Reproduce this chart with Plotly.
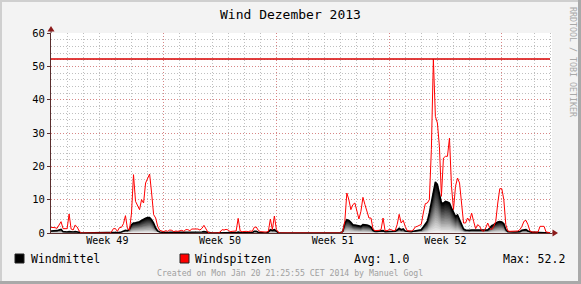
import numpy as np
import pandas as pd
import plotly.graph_objects as go

# ---------------- data ----------------
title = "Wind Dezember 2013"
series_names = ["Windmittel", "Windspitzen"]
start = "2013-12-02 00:00"
step = "3h"
range_end = "2014-01-02 02:50"
week_labels = ["Week 49", "Week 50", "Week 51", "Week 52"]
week_centers = ["2013-12-05 12:00", "2013-12-12 12:00", "2013-12-19 12:00", "2013-12-26 12:00"]
week_starts = ["2013-12-09", "2013-12-16", "2013-12-23", "2013-12-30"]
y_ticks = [0, 10, 20, 30, 40, 50, 60]

windspitzen = [
    1.7, 1.7, 1.6, 1.4, 2.5, 3.4, 1.3, 1.2,
    1.3, 5.7, 1.2, 0.9, 2.4, 1.8, 0.6, 0.0,
    0, 0, 0, 0, 0, 0, 0, 0,
    0, 0, 0, 0, 0, 0, 0.3, 1.3,
    1.3, 0.5, 1.6, 1.7, 2.8, 5.2, 1.3, 0.9,
    6.0, 17.5, 9.5, 8.0, 7.0, 10.0, 9.0, 15.0,
    16.5, 17.7, 12.0, 5.5, 4.5, 2.0, 0.8, 0.5,
    0.4, 0.7, 0.5, 0.9, 0.8, 0.4, 0.6, 0.5,
    0.7, 0.8, 0.5, 1.0, 1.0, 0.7, 1.2, 1.2,
    1.0, 1.2, 0.9, 1.4, 2.3, 1.2, 0.2, 0.0,
    0, 0, 0, 0, 0.3, 1.0, 0.9, 1.1,
    0.9, 0.4, 0.5, 0.5, 0.6, 4.4, 0.6, 0.4,
    0.5, 0.5, 0.4, 0.6, 0.5, 1.7, 1.8, 0.8,
    0.4, 0.3, 0.2, 0.3, 0.5, 4.2, 1.0, 5.1,
    1.0, 0.2, 0, 0, 0, 0, 0, 0,
    0, 0, 0, 0, 0, 0, 0, 0,
    0, 0, 0, 0, 0, 0, 0, 0,
    0, 0, 0, 0, 0, 0, 0, 0,
    0, 0.5, 3.5, 12.0, 10.0, 7.0, 8.5, 9.0,
    6.5, 4.2, 6.5, 10.7, 8.5, 6.3, 4.5, 4.5,
    1.2, 0.7, 0.7, 0.8, 1.0, 4.5, 0.7, 0.7,
    1.0, 1.0, 0.7, 0.7, 2.5, 5.6, 3.0, 3.8,
    2.0, 0.7, 0.6, 0.6, 0.9, 1.8, 2.0, 2.2,
    2.6, 6.0, 8.8, 9.0, 10.0, 25.0, 52.2, 35.0,
    33.0, 26.0, 11.0, 22.5, 23.0, 23.0, 28.5, 14.0,
    7.0, 14.0, 16.5, 15.0, 8.0, 3.0, 3.0, 4.5,
    3.5, 6.0, 3.5, 1.3, 2.5, 2.0, 0.8, 0.5,
    1.5, 3.0, 1.5, 1.0, 2.0, 3.5, 9.0, 13.3,
    13.3, 10.0, 2.5, 0.6, 0.5, 0.5, 0.5, 0.5,
    0.6, 1.0, 2.0, 3.5, 3.8, 2.5, 0.6, 0.3,
    0.3, 0.3, 0.3, 2.0, 2.0, 2.0, 0.3, 0.1,
    0.1,
]

windmittel = [
    0.6, 0.6, 0.6, 0.7, 0.9, 1.1, 0.4, 0.3,
    0.3, 0.4, 0.3, 0.3, 0.4, 0.4, 0.2, 0,
    0, 0, 0, 0, 0, 0, 0, 0,
    0, 0, 0, 0, 0, 0, 0, 0,
    0, 0, 0.2, 0.3, 0.5, 0.8, 0.7, 1.2,
    2.5, 3.0, 3.1, 3.2, 3.4, 3.8, 4.2, 4.4,
    4.6, 4.6, 4.0, 3.0, 1.5, 0.6, 0.3, 0.2,
    0.1, 0.2, 0.1, 0.2, 0.2, 0.1, 0.1, 0.1,
    0.2, 0.2, 0.1, 0.3, 0.3, 0.2, 0.2, 0.2,
    0.2, 0.3, 0.2, 0.3, 0.4, 0.3, 0, 0,
    0, 0, 0, 0, 0, 0.1, 0.2, 0.2,
    0.2, 0.1, 0.1, 0.1, 0.1, 0.3, 0.1, 0.1,
    0.1, 0.1, 0.1, 0.1, 0.1, 0.5, 0.5, 0.2,
    0.1, 0.1, 0, 0.1, 0.3, 1.0, 0.8, 1.0,
    0.5, 0.1, 0, 0, 0, 0, 0, 0,
    0, 0, 0, 0, 0, 0, 0, 0,
    0, 0, 0, 0, 0, 0, 0, 0,
    0, 0, 0, 0, 0, 0, 0, 0,
    0, 0.5, 3.0, 4.0, 3.8, 3.2, 2.5, 2.4,
    2.3, 2.1, 2.0, 2.5, 2.5, 2.4, 2.2, 1.8,
    0.8, 0.5, 0.5, 0.5, 0.5, 0.7, 0.4, 0.4,
    0.5, 0.5, 0.4, 0.5, 0.9, 1.4, 1.0, 1.2,
    0.6, 0.5, 0.4, 0.4, 0.5, 0.6, 0.7, 0.9,
    1.0, 1.8, 2.5, 3.5, 6.0, 9.0, 13.0, 15.3,
    14.5, 12.0, 9.0, 9.0, 9.5, 9.3, 9.0, 7.5,
    6.0, 5.0, 5.4, 4.0, 2.5, 1.2, 0.9, 0.8,
    0.8, 0.9, 0.9, 0.8, 0.8, 0.8, 0.7, 0.8,
    0.8, 0.9, 1.5, 2.2, 2.5, 3.0, 3.3, 3.4,
    3.3, 2.8, 1.0, 0.4, 0.3, 0.3, 0.3, 0.3,
    0.3, 0.4, 0.8, 1.0, 1.0, 0.6, 0.3, 0.2,
    0.2, 0.2, 0.2, 0.2, 0.2, 0.2, 0.1, 0,
    0,
]

avg_windmittel = 1.0
max_windspitzen = 52.2
footer = "Created on Mon Jän 20 21:25:55 CET 2014 by Manuel Gogl"
watermark = "RRDTOOL / TOBI OETIKER"

# ---------------- figure ----------------
FONT = "DejaVu Sans Mono"
W, H = 581, 284
PL, PR, PT, PB = 51, 552, 33, 233  # plot area in pixels


def px(x):
    return (x - PL) / (PR - PL)


def py(y):
    return (PB - y) / (PB - PT)


times = pd.date_range(start, periods=len(windspitzen), freq=step)
mittel = np.array(windmittel, dtype=float)

fig = go.Figure()

# gradient area for Windmittel (stack of scaled areas, dark on top -> light at bottom)
n_layers = 20
for j in range(n_layers):
    k = 1 - j / n_layers
    g = int(round(250 * (1 - k)))
    fig.add_trace(go.Scatter(
        x=times, y=mittel * k, mode="lines", line=dict(width=0),
        fill="tozeroy", fillcolor=f"rgb({g},{g},{g})",
        hoverinfo="skip", showlegend=False))

fig.add_trace(go.Scatter(x=times, y=mittel, mode="lines", name=series_names[0],
                         line=dict(color="black", width=1.6), showlegend=False))
fig.add_trace(go.Scatter(x=times, y=windspitzen, mode="lines", name=series_names[1],
                         line=dict(color="#ff0000", width=1), showlegend=False))

grid_minor = "rgba(170,170,170,0.75)"
grid_major = "rgba(225,110,110,0.7)"
axis_col = "#5a2e2e"

fig.update_layout(
    width=W, height=H,
    margin=dict(l=PL, r=W - PR, t=PT, b=H - PB),
    paper_bgcolor="#f3f3f3", plot_bgcolor="white",
    font=dict(family=FONT, size=10, color="black"),
    xaxis=dict(
        type="date", range=[start, range_end],
        tickmode="array", tickvals=week_starts, ticktext=["" for _ in week_starts],
        showgrid=True, gridcolor=grid_major, griddash="1px,2px", gridwidth=1,
        minor=dict(tickmode="linear", tick0=start, dtick=86400000, showgrid=True,
                   gridcolor=grid_minor, griddash="1px,2px", gridwidth=1, ticks=""),
        showline=True, linecolor=axis_col, linewidth=1, ticks="",
        zeroline=False, fixedrange=True,
    ),
    xaxis2=dict(
        type="date", range=[start, range_end], overlaying="x", anchor="y", side="bottom",
        tickmode="array", tickvals=week_centers, ticktext=week_labels,
        showgrid=False, showline=False, ticks="", zeroline=False,
        tickfont=dict(family=FONT, size=10, color="black"),
    ),
    yaxis=dict(
        range=[0, 60], tickmode="array", tickvals=y_ticks,
        showgrid=True, gridcolor=grid_major, griddash="1px,2px", gridwidth=1,
        minor=dict(dtick=2, showgrid=True, gridcolor=grid_minor, griddash="1px,2px", gridwidth=1),
        showline=True, linecolor=axis_col, linewidth=1,
        ticks="outside", ticklen=3, tickcolor=axis_col,
        zeroline=False, tickfont=dict(family=FONT, size=10.5, color="black"),
    ),
)

# dummy trace to keep xaxis2 alive
fig.add_trace(go.Scatter(x=[start], y=[None], xaxis="x2", yaxis="y",
                         showlegend=False, hoverinfo="skip"))

shapes = []
# frame
shapes.append(dict(type="rect", xref="paper", yref="paper", x0=px(0), x1=px(W), y0=py(0), y1=py(2),
                   fillcolor="#cfcfcf", line=dict(width=0), layer="above"))
shapes.append(dict(type="rect", xref="paper", yref="paper", x0=px(0), x1=px(2), y0=py(0), y1=py(H),
                   fillcolor="#cfcfcf", line=dict(width=0), layer="above"))
shapes.append(dict(type="rect", xref="paper", yref="paper", x0=px(0), x1=px(W), y0=py(H - 3), y1=py(H),
                   fillcolor="#a9a9a9", line=dict(width=0), layer="above"))
shapes.append(dict(type="rect", xref="paper", yref="paper", x0=px(W - 3), x1=px(W), y0=py(0), y1=py(H),
                   fillcolor="#a9a9a9", line=dict(width=0), layer="above"))
# max rule
shapes.append(dict(type="line", xref="paper", yref="y", x0=0, x1=px(550),
                   y0=max_windspitzen, y1=max_windspitzen,
                   line=dict(color="#d80000", width=1.5), layer="above"))
# axis extensions and arrows
shapes.append(dict(type="line", xref="paper", yref="paper", x0=0, x1=0, y0=1, y1=py(30),
                   line=dict(color=axis_col, width=1)))
shapes.append(dict(type="line", xref="paper", yref="paper", x0=1, x1=px(554), y0=0, y1=0,
                   line=dict(color=axis_col, width=1)))
shapes.append(dict(type="path", xref="paper", yref="paper",
                   path=f"M {px(47.5)},{py(31.5)} L {px(54.5)},{py(31.5)} L {px(51)},{py(26)} Z",
                   fillcolor="#8b1a1a", line=dict(width=0)))
shapes.append(dict(type="path", xref="paper", yref="paper",
                   path=f"M {px(552.5)},{py(229.5)} L {px(552.5)},{py(236.5)} L {px(558)},{py(233)} Z",
                   fillcolor="#8b1a1a", line=dict(width=0)))
# legend swatches
shapes.append(dict(type="rect", xref="paper", yref="paper", x0=px(15), x1=px(24), y0=py(263), y1=py(254),
                   fillcolor="black", line=dict(color="#222", width=1)))
shapes.append(dict(type="rect", xref="paper", yref="paper", x0=px(180), x1=px(189), y0=py(263), y1=py(254),
                   fillcolor="#ff0000", line=dict(color="#222", width=1)))
fig.update_layout(shapes=shapes)

ann = []
ann.append(dict(text=title, x=px(290), y=py(14), xref="paper", yref="paper", showarrow=False,
                xanchor="center", yanchor="middle", font=dict(family=FONT, size=13, color="black")))
legend_font = dict(family=FONT, size=11.5, color="black")
ann.append(dict(text=series_names[0], x=px(29), y=py(258.5), xref="paper", yref="paper", showarrow=False,
                xanchor="left", yanchor="middle", font=legend_font))
ann.append(dict(text=series_names[1], x=px(193), y=py(258.5), xref="paper", yref="paper", showarrow=False,
                xanchor="left", yanchor="middle", font=legend_font))
ann.append(dict(text=f"Avg: {avg_windmittel:.1f}", x=px(352), y=py(258.5), xref="paper", yref="paper",
                showarrow=False, xanchor="left", yanchor="middle", font=legend_font))
ann.append(dict(text=f"Max: {max_windspitzen:.1f}", x=px(501), y=py(258.5), xref="paper", yref="paper",
                showarrow=False, xanchor="left", yanchor="middle", font=legend_font))
ann.append(dict(text=footer, x=px(290), y=py(272.5), xref="paper", yref="paper", showarrow=False,
                xanchor="center", yanchor="middle", font=dict(family=FONT, size=8.2, color="#a0a0a0")))
ann.append(dict(text=watermark, x=px(573), y=py(62), xref="paper", yref="paper", showarrow=False,
                textangle=90, xanchor="center", yanchor="middle",
                font=dict(family=FONT, size=8.3, color="#a8a8a8")))
fig.update_layout(annotations=ann)

fig.write_html("out.html")
